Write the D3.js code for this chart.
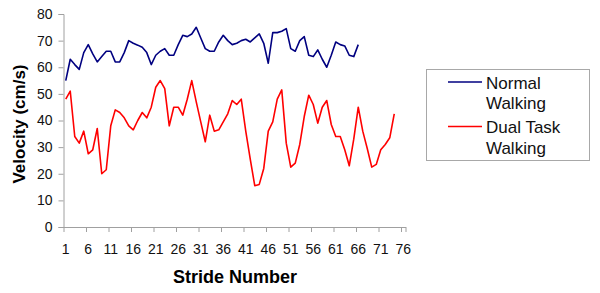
<!DOCTYPE html>
<html>
<head>
<meta charset="utf-8">
<script src="https://cdn.jsdelivr.net/npm/d3@7"></script>
<style>
    body { margin: 0; background: #fff; }
    text { font-family: Arial, "Liberation Sans", sans-serif; }
</style>
</head>
<body>
<svg id="chart" width="600" height="293"></svg>
<script>
// strides 1..76 on the category axis, labels every 5
let strides = d3.range(1, 77)
let strideLabels = [1, 6, 11, 16, 21, 26, 31, 36, 41, 46, 51, 56, 61, 66, 71, 76]
let velocityTicks = [0, 10, 20, 30, 40, 50, 60, 70, 80]

let normalWalking = [
    55, 63, 61, 59.2, 65.5, 68.5, 65, 62, 64, 66,
    66, 62, 62, 65.5, 70, 69, 68.3, 67.5, 65.5, 61,
    64.5, 66, 67, 64.5, 64.5, 68.5, 72, 71.5, 72.5, 75,
    71, 67, 66, 66, 69.5, 72, 70, 68.5, 69, 70,
    70.5, 69.5, 71, 72.5, 69, 61.5, 73, 73, 73.5, 74.5,
    67, 66, 70, 71.5, 64.5, 64, 66.5, 63, 60, 64.5,
    69.5, 68.5, 68, 64.5, 64, 68.5
]
let dualTaskWalking = [
    48, 51, 34, 31.5, 36, 27.5, 29, 37, 20, 21.5,
    38, 44, 43, 41, 38, 36.5, 40, 43, 41, 45,
    52.5, 55, 52, 38, 45, 45, 42, 48, 55, 47,
    39.5, 32, 42, 36, 36.5, 39.5, 42.5, 47.5, 46, 48,
    36, 25.5, 15.5, 16, 22, 36, 39.5, 48, 51.5, 31.5,
    22.5, 24, 31, 41.5, 49.5, 46, 39, 45, 47.5, 38.5,
    34, 34, 29, 23, 33, 45, 36, 29.5, 22.5, 23.5,
    29, 31, 33.5, 42.5
]
let seriesNames = ['Normal Walking', 'Dual Task Walking']
let seriesColors = ['#000080', '#ff0000']

let svg = d3.select('#chart')
let plotLeft = 63.5, plotRight = 405.5, plotTop = 14, plotBottom = 227

let x = d3.scaleBand().domain(strides).range([plotLeft, plotRight]).paddingInner(0).paddingOuter(0)
let xEdge = d3.scaleLinear().domain([0, strides.length]).range([plotLeft, plotRight])
let y = d3.scaleLinear().domain([0, 80]).range([plotBottom, plotTop])

let axisColor = '#a0a0a0'

// y axis
let yAxis = svg.append('g')
    .attr('transform', 'translate(' + plotLeft + ',0)')
    .call(d3.axisLeft(y).tickValues(velocityTicks).tickSize(5).tickPadding(6))
yAxis.select('.domain').attr('stroke', axisColor)
yAxis.selectAll('.tick line').attr('stroke', axisColor)
yAxis.selectAll('.tick text')
    .attr('font-size', 14).attr('fill', '#111')
    .style('font-family', 'Arial, "Liberation Sans", sans-serif')

// x axis: tick marks sit between categories
let xTicks = svg.append('g')
    .attr('transform', 'translate(0,' + plotBottom + ')')
    .call(d3.axisBottom(xEdge)
        .tickValues(d3.range(0, strides.length + 1, 5).concat([strides.length]))
        .tickFormat('').tickSize(5).tickSizeOuter(0))
xTicks.select('.domain').attr('stroke', axisColor)
xTicks.selectAll('.tick line').attr('stroke', axisColor)

let xLabels = svg.append('g')
    .attr('transform', 'translate(0,' + plotBottom + ')')
    .call(d3.axisBottom(x).tickValues(strideLabels).tickSize(0).tickPadding(17))
xLabels.select('.domain').remove()
xLabels.selectAll('.tick text')
    .attr('font-size', 14).attr('fill', '#111')
    .style('font-family', 'Arial, "Liberation Sans", sans-serif')

// lines
let line = d3.line()
    .x((d, i) => x(strides[i]) + x.bandwidth() / 2)
    .y(d => y(d))

;[normalWalking, dualTaskWalking].forEach((data, k) => {
    svg.append('path')
        .datum(data)
        .attr('d', line)
        .attr('fill', 'none')
        .attr('stroke', seriesColors[k])
        .attr('stroke-width', 1.6)
        .attr('stroke-linejoin', 'round')
})

// axis titles
svg.append('text')
    .attr('x', 235).attr('y', 283)
    .attr('text-anchor', 'middle')
    .attr('font-size', 18).attr('font-weight', 'bold')
    .text('Stride Number')

svg.append('text')
    .attr('transform', 'translate(25,124) rotate(-90)')
    .attr('text-anchor', 'middle')
    .attr('font-size', 17).attr('font-weight', 'bold')
    .text('Velocity (cm/s)')

// legend
let legend = svg.append('g')
legend.append('rect')
    .attr('x', 426.5).attr('y', 69.5)
    .attr('width', 163).attr('height', 91)
    .attr('fill', '#fff').attr('stroke', '#a8a8a8')

let legendRows = [['Normal', 'Walking'], ['Dual Task', 'Walking']]
legendRows.forEach((words, k) => {
    let cy = 82 + k * 44.5
    legend.append('line')
        .attr('x1', 448).attr('x2', 482)
        .attr('y1', cy).attr('y2', cy)
        .attr('stroke', seriesColors[k]).attr('stroke-width', 1.6)
    words.forEach((w, j) => {
        legend.append('text')
            .attr('x', 486).attr('y', cy + 6.5 + j * 20.5)
            .attr('font-size', 17).attr('fill', '#111')
            .text(w)
    })
})
</script>
</body>
</html>
